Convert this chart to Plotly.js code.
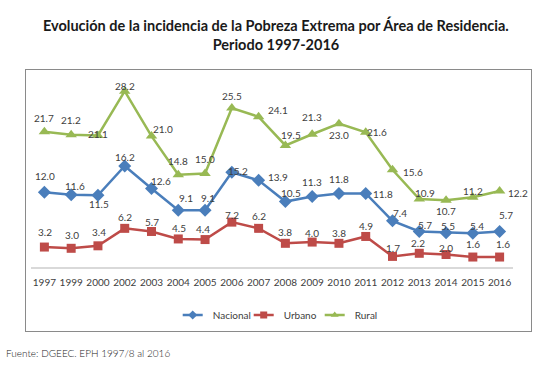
<!DOCTYPE html>
<html><head><meta charset="utf-8">
<script src="https://cdn.plot.ly/plotly-3.0.1.min.js"></script>
<style>html,body{margin:0;padding:0;background:#fff;}#chart{width:550px;height:375px;}</style>
</head><body><div id="chart"></div>
<script>
const years = ['1997','1999','2000','2002','2003','2004','2005','2006','2007','2008','2009','2010','2011','2012','2013','2014','2015','2016'];
const nacional = [12.0,11.6,11.5,16.2,12.6,9.1,9.1,15.2,13.9,10.5,11.3,11.8,11.8,7.4,5.7,5.5,5.4,5.7];
const urbano = [3.2,3.0,3.4,6.2,5.7,4.5,4.4,7.2,6.2,3.8,4.0,3.8,4.9,1.7,2.2,2.0,1.6,1.6];
const rural = [21.7,21.2,21.1,28.2,21.0,14.8,15.0,25.5,24.1,19.5,21.3,23.0,21.6,15.6,10.9,10.7,11.2,12.2];

// label offsets in px (dx right, dy down) – styling only
const offN = [[1,-16],[4,-9],[1,9],[0,-9],[9,-7],[8,-12],[3,-12],[6,-1],[19,-3],[6,-9],[0,-15],[0,-14],[17,1],[7,-8],[6,-6],[2,-7],[4,-7],[6,-16]];
const offU = [[1,-15],[1,-13],[1,-14],[0,-11],[0,-9],[1,-11],[-2,-11],[0,-7],[0,-12],[0,-11],[0,-9],[0,-10],[0,-10],[0,-8],[-1,-10],[0,-7],[0,-13],[3,-13]];
const offR = [[0,-14],[0,-15],[0,-1],[0,-5],[11,-7],[0,-14],[0,-15],[0,-12],[19,-7],[6,-10],[0,-17],[0,11],[11,0],[20,2],[6,-6],[0,11],[0,-6],[18,2]];

const cBlue = '#4A7EBB', cRed = '#BE4B48', cGreen = '#98B954';
const numFont = {family:'Lato, sans-serif', size:10, color:'#404040'};
const legDash = '0px,5px,20px,200px';

const traces = [
  {x:years, y:nacional, name:'Nacional', mode:'lines+markers', showlegend:false, line:{color:cBlue,width:2.5}, marker:{symbol:'diamond',size:10,color:cBlue}},
  {x:years, y:urbano, name:'Urbano', mode:'lines+markers', showlegend:false, line:{color:cRed,width:2.5}, marker:{symbol:'square',size:9,color:cRed}},
  {x:years, y:rural, name:'Rural', mode:'lines+markers', showlegend:false, line:{color:cGreen,width:2.5}, marker:{symbol:'triangle-up',size:10,color:cGreen}},
  {x:[null], y:[null], name:'Nacional', mode:'lines+markers', line:{color:cBlue,width:2.5,dash:legDash}, marker:{symbol:'diamond',size:7,color:cBlue}},
  {x:[null], y:[null], name:'Urbano', mode:'lines+markers', line:{color:cRed,width:2.5,dash:legDash}, marker:{symbol:'square',size:7,color:cRed}},
  {x:[null], y:[null], name:'Rural', mode:'lines+markers', line:{color:cGreen,width:2.5,dash:legDash}, marker:{symbol:'triangle-up',size:7,color:cGreen}},
  // empty frame subplot: its mirrored axis lines draw the chart-area border
  {x:[null], y:[null], xaxis:'x2', yaxis:'y2', mode:'lines', showlegend:false, hoverinfo:'skip'}
];

const annotations = [];
function addLabels(vals, offs){
  vals.forEach((v,i)=>{
    annotations.push({x:i, y:v, xref:'x', yref:'y', text:v.toFixed(1), showarrow:false,
      xanchor:'center', yanchor:'middle',
      xshift:offs[i][0], yshift:-offs[i][1], font:numFont});
  });
}
addLabels(nacional, offN); addLabels(urbano, offU); addLabels(rural, offR);

annotations.push({xref:'paper', yref:'paper', x:0.495, y:1, xanchor:'center', yanchor:'middle', text:'<b>Evolución de la incidencia de la Pobreza Extrema por Área de Residencia.</b><br><b>Periodo 1997-2016</b>',
  showarrow:false, font:{family:'Lato, sans-serif', size:14.5, color:'#1a1a1a'}, yshift:36});
annotations.push({xref:'paper', yref:'paper', x:0, y:0, xanchor:'left', yanchor:'middle', text:'Fuente: DGEEC. EPH 1997/8 al 2016',
  showarrow:false, font:{family:'Lato, sans-serif', size:10, color:'#222', weight:300}, xshift:-22, yshift:-22});

const layout = {
  width:550, height:375,
  margin:{l:26, r:19, t:70, b:44},
  paper_bgcolor:'#fff', plot_bgcolor:'rgba(0,0,0,0)',
  showlegend:true,
  legend:{orientation:'h', x:0.5014, xanchor:'center', y:0.0613, yanchor:'middle', itemwidth:30, entrywidth:26, entrywidthmode:'pixels', traceorder:'normal',
    bgcolor:'rgba(0,0,0,0)', font:{family:'Lato, sans-serif', size:10, color:'#404040'}},
  xaxis:{type:'category', domain:[5/505, 487/505], anchor:'y', range:[-0.5,17.5], showgrid:false, showline:true, linecolor:'#D9D9D9', linewidth:2, zeroline:false,
    tickfont:{family:'Lato, sans-serif', size:10, color:'#404040'}, ticks:'', ticklabelstandoff:5, fixedrange:true},
  yaxis:{domain:[64/261, 251/261], anchor:'x', range:[0,30], showgrid:false, showline:false, zeroline:false, showticklabels:false, ticks:'', fixedrange:true},
  xaxis2:{domain:[0,1], anchor:'y2', range:[0,1], showline:true, mirror:true, linecolor:'#8a8a8a', linewidth:1,
    showgrid:false, zeroline:false, showticklabels:false, ticks:'', fixedrange:true},
  yaxis2:{domain:[0,1], anchor:'x2', range:[0,1], showline:true, mirror:true, linecolor:'#8a8a8a', linewidth:1,
    showgrid:false, zeroline:false, showticklabels:false, ticks:'', fixedrange:true},
  annotations:annotations
};
Plotly.newPlot('chart', traces, layout, {displayModeBar:false, staticPlot:true});
</script></body></html>
